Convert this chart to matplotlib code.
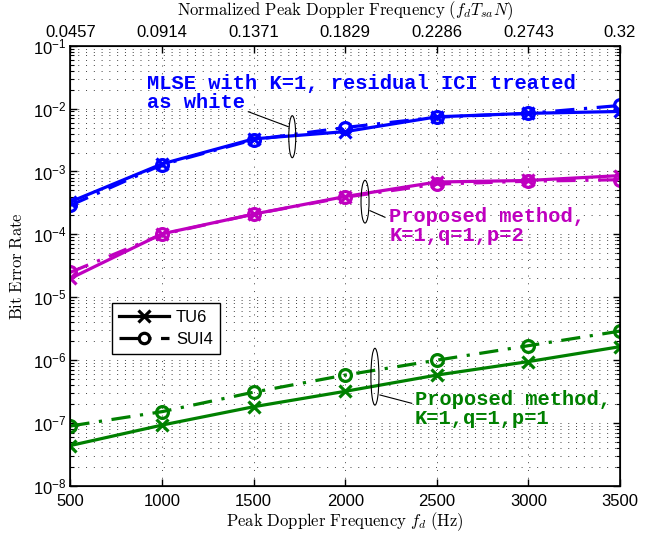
import matplotlib
matplotlib.use("Agg")
import matplotlib.pyplot as plt
from matplotlib.patches import Ellipse
from matplotlib.lines import Line2D
from matplotlib.ticker import LogLocator, NullFormatter

plt.rcParams['font.family'] = ['Liberation Sans', 'DejaVu Sans']
plt.rcParams['mathtext.fontset'] = 'cm'

# ---------------- data ----------------
fd = [500, 1000, 1500, 2000, 2500, 3000, 3500]
norm_labels = ['0.0457', '0.0914', '0.1371', '0.1829', '0.2286', '0.2743', '0.32']

mlse_tu6 = [3.3e-4, 1.32e-3, 3.3e-3, 4.3e-3, 7.4e-3, 8.4e-3, 9.0e-3]
mlse_sui4 = [2.9e-4, 1.28e-3, 3.2e-3, 5.0e-3, 7.3e-3, 8.4e-3, 1.12e-2]

p2_tu6 = [2.0e-5, 1.02e-4, 2.1e-4, 4.0e-4, 6.8e-4, 7.2e-4, 8.6e-4]
p2_sui4 = [2.5e-5, 1.0e-4, 2.1e-4, 3.9e-4, 6.3e-4, 7.0e-4, 7.4e-4]

p1_tu6 = [4.4e-8, 9.3e-8, 1.82e-7, 3.2e-7, 5.8e-7, 9.5e-7, 1.64e-6]
p1_sui4 = [9.0e-8, 1.52e-7, 3.1e-7, 5.8e-7, 1.0e-6, 1.7e-6, 2.9e-6]

BLUE = (0, 0, 1)
MAG = (0.75, 0, 0.75)
GREEN = (0, 0.5, 0)

fig = plt.figure(figsize=(6.55, 5.33), dpi=100)
ax = fig.add_axes([0.1076, 0.0882, 0.8390, 0.8261])

lw = 2.3
ms = 9
mew = 2.3
for tu6, sui4, c in [(mlse_tu6, mlse_sui4, BLUE), (p2_tu6, p2_sui4, MAG), (p1_tu6, p1_sui4, GREEN)]:
    ax.plot(fd, tu6, '-', color=c, lw=lw, marker='x', ms=ms, mew=mew)
    ax.plot(fd, sui4, '-.', color=c, lw=lw, marker='o', ms=ms - 0.5, mew=mew,
            markerfacecolor='none', dashes=(6, 3, 1, 3))

ax.set_yscale('log')
ax.set_xlim(500, 3500)
ax.set_ylim(1e-8, 1e-1)
ax.set_xticks(fd)
ax.set_xticklabels([str(v) for v in fd])
ax.yaxis.set_major_locator(LogLocator(base=10, numticks=20))
ax.yaxis.set_minor_locator(LogLocator(base=10, subs=range(2, 10), numticks=100))
ax.yaxis.set_minor_formatter(NullFormatter())

grid_kw = dict(color='black', linestyle=(0, (1, 7)), linewidth=0.7, alpha=0.75)
ax.grid(True, which='major', axis='both', **grid_kw)
ax.grid(True, which='minor', axis='y', **grid_kw)

ax.tick_params(axis='both', which='both', direction='in', labelsize=12,
               top=False, right=True)
ax.tick_params(axis='x', which='major', length=5, width=1, pad=6)
ax.tick_params(axis='y', which='major', length=5, width=1, pad=3)
ax.tick_params(axis='y', which='minor', length=3, width=0.8)
for s in ax.spines.values():
    s.set_linewidth(1.2)

ax.set_xlabel(r'$\mathrm{Peak\ Doppler\ Frequency}\ f_d\ \mathrm{(Hz)}$', fontsize=12)
ax.xaxis.set_label_coords(0.5, -0.056)
ax.set_ylabel(r'$\mathrm{Bit\ Error\ Rate}$', fontsize=12)
ax.yaxis.set_label_coords(-0.083, 0.5)

# top axis
ax2 = ax.twiny()
ax2.set_xlim(ax.get_xlim())
ax2.set_xticks(fd)
ax2.set_xticklabels(norm_labels)
ax2.tick_params(axis='x', direction='in', labelsize=12, length=5, width=1, pad=4)
ax2.set_xlabel(r'$\mathrm{Normalized\ Peak\ Doppler\ Frequency}\ (f_dT_{sa}N)$', fontsize=12)
ax2.xaxis.set_label_coords(0.5, 1.07)

# annotations
mono = dict(family=['Liberation Mono', 'DejaVu Sans Mono'], fontweight='bold', fontsize=14.7,
            transform=ax.transAxes, ha='left', va='center', linespacing=1.0)
ax.text(0.1392, 0.8914, 'MLSE with K=1, residual ICI treated\nas white', color=BLUE, **mono)
ax.text(0.580, 0.5898, 'Proposed method,\nK=1,q=1,p=2', color=MAG, **mono)
ax.text(0.627, 0.1749, 'Proposed method,\nK=1,q=1,p=1', color=GREEN, **mono)

for (cx, cy, w, h) in [(0.4036, 0.7933, 0.0127, 0.0954),
                       (0.536, 0.6457, 0.0146, 0.097),
                       (0.554, 0.2482, 0.0146, 0.129)]:
    ax.add_patch(Ellipse((cx, cy), w, h, transform=ax.transAxes, fill=False,
                         edgecolor='black', lw=0.8, zorder=5))
for (x0, y0, x1, y1) in [(0.3964, 0.816, 0.3236, 0.850),
                         (0.545, 0.6253, 0.5723, 0.6103),
                         (0.5632, 0.2067, 0.6209, 0.1878)]:
    ax.plot([x0, x1], [y0, y1], transform=ax.transAxes, color='black', lw=0.8, zorder=5)

handles = [Line2D([], [], color='black', lw=lw, marker='x', ms=ms, mew=mew),
           Line2D([], [], color='black', lw=lw, marker='o', ms=ms - 1.5, mew=mew,
                  markerfacecolor='none', linestyle='-.', dashes=(6, 3, 1, 3))]
leg = ax.legend(handles, ['TU6', 'SUI4'], loc='upper left', bbox_to_anchor=(0.075, 0.4163),
                fontsize=12, frameon=True, fancybox=False, edgecolor='black',
                handlelength=3.0, borderpad=0.45, labelspacing=0.4, handletextpad=0.4,
                borderaxespad=0)
leg.get_frame().set_linewidth(1.0)
leg.get_frame().set_alpha(1)

fig.savefig('out.png', dpi=100)
